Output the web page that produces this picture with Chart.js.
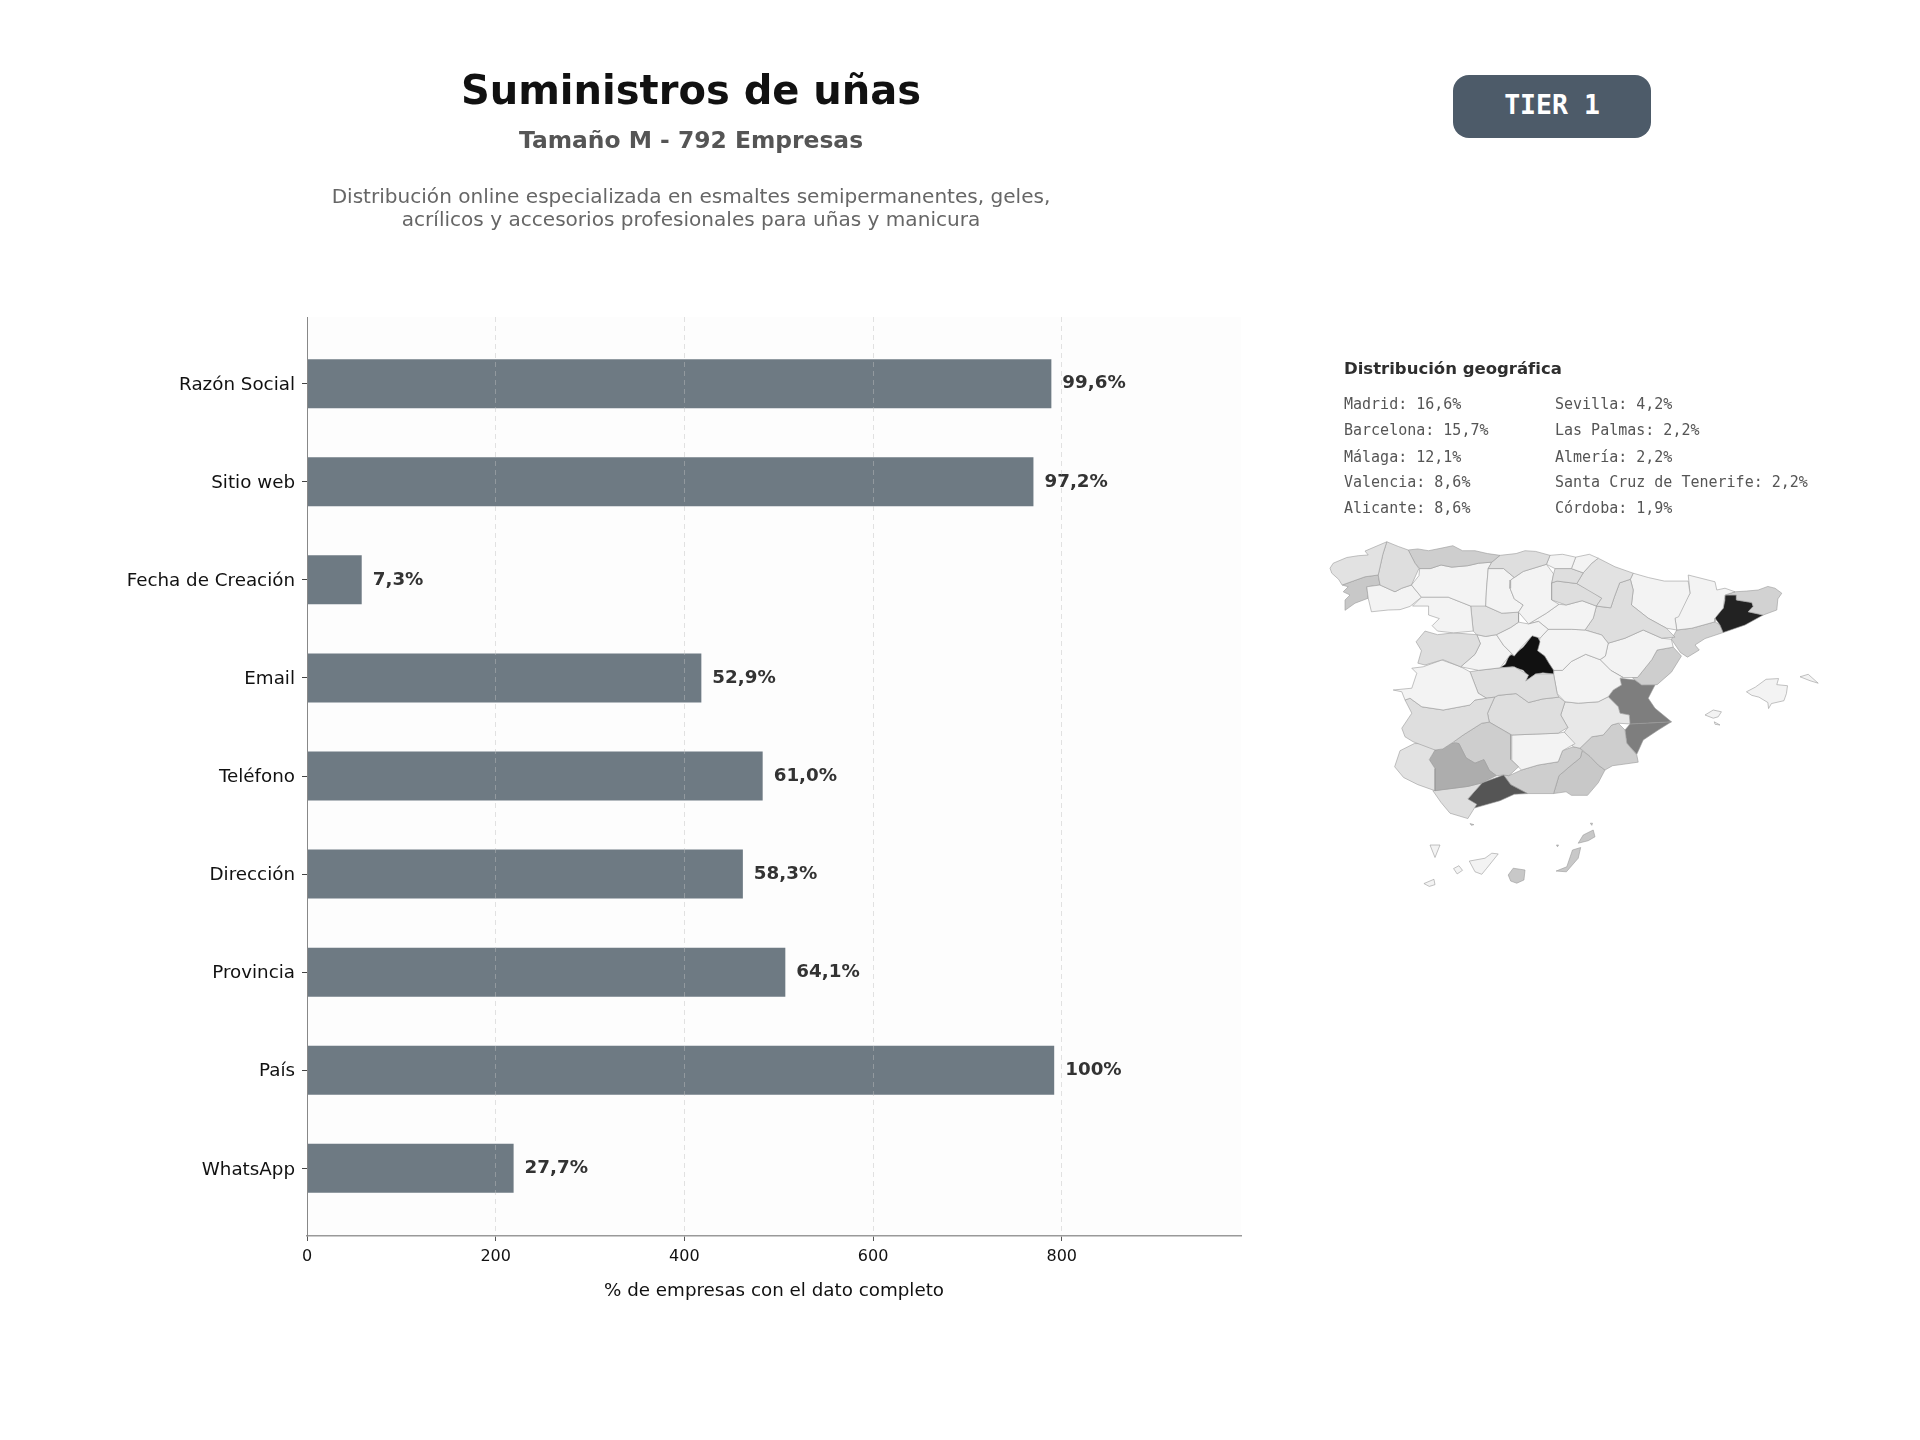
<!DOCTYPE html>
<html lang="es">
<head>
<meta charset="utf-8">
<title>Suministros de uñas</title>
<script src="https://cdn.jsdelivr.net/npm/chart.js@4/dist/chart.umd.min.js"></script>
<style>
  html, body { margin: 0; padding: 0; background: #fff; }
  body { position: relative; width: 1920px; height: 1440px; overflow: hidden; font-family: "DejaVu Sans", sans-serif; }
  canvas { position: absolute; left: 0; top: 0; }
  #mapCanvas { left: 1300px; top: 340px; }
  .centered { position: absolute; left: 691px; transform: translate(-50%, -50%); white-space: nowrap; }
  #title { top: 90px; font-size: 40px; font-weight: bold; color: #111; }
  #subtitle { top: 140px; font-size: 23.4px; font-weight: bold; color: #555; }
  .desc { font-size: 20.07px; color: #666; }
  #badge { position: absolute; left: 1453px; top: 75px; width: 198px; height: 63px; text-align: center;
           background: #4d5b69; border-radius: 16px; color: #fff; font: bold 26.5px/60px "DejaVu Sans Mono", monospace; }
  #geoTitle { position: absolute; left: 1344px; top: 368px; transform: translateY(-50%); font-size: 16.5px; font-weight: bold; color: #2e2e2e; white-space: nowrap; }
  .geo { position: absolute; transform: translateY(-50%); font: 15px "DejaVu Sans Mono", monospace; color: #555; white-space: nowrap; }
</style>
</head>
<body>
<canvas id="barCanvas" width="1920" height="1440"></canvas>
<canvas id="mapCanvas" width="560" height="560"></canvas>
<div id="title" class="centered">Suministros de uñas</div>
<div id="subtitle" class="centered">Tamaño M - 792 Empresas</div>
<div class="centered desc" style="top:196px">Distribución online especializada en esmaltes semipermanentes, geles,</div>
<div class="centered desc" style="top:219px">acrílicos y accesorios profesionales para uñas y manicura</div>
<div id="badge">TIER 1</div>
<div id="geoTitle">Distribución geográfica</div>
<div id="geoList"></div>

<script>
var categories = ['Razón Social', 'Sitio web', 'Fecha de Creación', 'Email', 'Teléfono', 'Dirección', 'Provincia', 'País', 'WhatsApp'];
var companyCounts = [789, 770, 58, 418, 483, 462, 507, 792, 219];
var valueLabels = ['99,6%', '97,2%', '7,3%', '52,9%', '61,0%', '58,3%', '64,1%', '100%', '27,7%'];
var xTicks = [0, 200, 400, 600, 800];

var geoLeft = ['Madrid: 16,6%', 'Barcelona: 15,7%', 'Málaga: 12,1%', 'Valencia: 8,6%', 'Alicante: 8,6%'];
var geoRight = ['Sevilla: 4,2%', 'Las Palmas: 2,2%', 'Almería: 2,2%', 'Santa Cruz de Tenerife: 2,2%', 'Córdoba: 1,9%'];

// province outlines in map units
var provinceNames = [];
var provinceShades = [];
var provinceOutlines = [];
function province(name, shade, outline) {
  provinceNames.push(name);
  provinceShades.push(shade);
  provinceOutlines.push(outline);
}

var LIGHT = '#f3f3f3', PALE = '#dedede', MID = '#cecece';

province('A Coruña', '#e2e2e2', [[84,639],[93,625],[131,609],[163,604],[191,602],[182,591],[210,579],[243,565],[232,600],[219,658],[182,663],[118,686],[108,670],[89,653]]);
province('Lugo', PALE, [[243,565],[275,578],[303,588],[322,625],[333,640],[312,686],[285,695],[266,705],[224,686],[219,658],[232,600]]);
province('Asturias', MID, [[303,588],[330,585],[360,590],[400,582],[428,576],[455,590],[490,590],[525,598],[560,603],[537,622],[500,625],[470,632],[425,636],[395,630],[365,640],[335,640],[322,625]]);
province('Cantabria', PALE, [[537,622],[560,603],[605,598],[630,590],[660,592],[700,603],[690,628],[625,648],[600,665],[570,640],[527,640]]);
province('Bizkaia', LIGHT, [[700,603],[735,600],[772,608],[760,640],[714,640],[690,628]]);
province('Gipuzkoa', LIGHT, [[772,608],[810,600],[835,611],[817,625],[793,652],[760,640]]);
province('Álava', PALE, [[714,640],[760,640],[793,652],[775,682],[720,675],[705,680],[710,655]]);
province('Navarra', '#e2e2e2', [[835,611],[882,635],[933,653],[925,670],[895,680],[880,720],[870,750],[830,745],[845,723],[775,682],[793,652],[817,625]]);
province('La Rioja', PALE, [[705,680],[720,675],[775,682],[810,700],[845,723],[830,745],[790,730],[745,742],[705,728]]);
province('Burgos', LIGHT, [[590,672],[625,648],[690,628],[710,655],[705,680],[705,728],[725,740],[690,765],[640,795],[612,762],[625,742],[600,725],[588,695]]);
province('Palencia', LIGHT, [[527,640],[570,640],[600,665],[590,672],[588,695],[600,725],[625,742],[612,762],[565,765],[520,745],[522,700]]);
province('León', LIGHT, [[335,640],[365,640],[395,630],[425,636],[470,632],[500,625],[537,622],[527,640],[522,700],[520,745],[478,745],[415,720],[340,720],[312,686],[333,660]]);
province('Ourense', LIGHT, [[187,691],[224,686],[266,705],[285,695],[312,686],[340,720],[308,746],[280,755],[247,756],[200,761],[191,723]]);
province('Pontevedra', '#c8c8c8', [[118,686],[182,663],[219,658],[224,686],[187,691],[191,723],[154,737],[126,757],[126,728],[140,714],[121,705],[135,691]]);
province('Zamora', LIGHT, [[315,745],[340,720],[415,720],[478,745],[485,815],[430,820],[385,815],[370,800],[390,780],[360,770],[360,745]]);
province('Valladolid', '#e2e2e2', [[478,745],[478,720],[520,745],[565,765],[612,762],[612,790],[590,805],[550,825],[520,830],[495,825],[485,815]]);
province('Segovia', LIGHT, [[550,825],[590,805],[612,790],[640,795],[668,788],[695,810],[672,835],[650,828],[620,860],[600,885],[570,855]]);
province('Soria', LIGHT, [[640,795],[690,765],[725,740],[745,742],[790,730],[830,745],[821,779],[798,812],[760,810],[695,810],[668,788]]);
province('Salamanca', PALE, [[350,815],[385,825],[430,820],[495,825],[505,850],[490,880],[450,915],[400,895],[350,910],[330,905],[340,870],[325,845]]);
province('Ávila', LIGHT, [[495,825],[520,830],[550,825],[570,855],[600,885],[590,880],[560,918],[500,925],[450,915],[490,880],[505,850]]);
province('Cáceres', LIGHT, [[313,919],[345,915],[397,896],[450,915],[476,929],[499,989],[522,1003],[490,1008],[476,1022],[401,1036],[341,1027],[308,1003],[294,1008],[285,985],[261,980],[313,975],[327,933]]);
province('Badajoz', PALE, [[294,1008],[308,1003],[341,1027],[401,1036],[476,1022],[490,1008],[522,1003],[545,1000],[525,1045],[530,1070],[509,1073],[457,1106],[429,1126],[400,1145],[378,1148],[317,1125],[294,1111],[285,1087],[313,1045]]);
province('Huelva', '#e2e2e2', [[320,1130],[360,1130],[378,1148],[362,1175],[378,1200],[378,1262],[330,1245],[290,1225],[265,1195],[280,1150]]);
province('Sevilla', '#adadad', [[378,1148],[400,1145],[420,1128],[445,1130],[465,1170],[490,1185],[515,1175],[530,1205],[550,1220],[510,1240],[470,1250],[378,1262],[378,1200],[362,1175]]);
province('Cádiz', PALE, [[372,1262],[470,1250],[510,1240],[470,1285],[495,1300],[470,1340],[420,1325],[395,1295]]);
province('Málaga', '#555555', [[470,1285],[510,1240],[570,1218],[590,1245],[637,1270],[600,1272],[560,1290],[490,1310],[455,1292]]);
province('Córdoba', MID, [[429,1126],[457,1106],[509,1073],[530,1070],[590,1105],[590,1175],[612,1195],[585,1220],[570,1218],[550,1220],[530,1205],[515,1175],[490,1185],[465,1170],[445,1130]]);
province('Toledo', PALE, [[476,929],[500,925],[560,918],[600,915],[640,938],[632,955],[660,935],[710,935],[720,990],[725,1000],[680,1005],[640,1015],[605,990],[555,995],[545,1000],[522,1003],[499,989]]);
province('Madrid', '#111111', [[560,918],[575,908],[585,885],[610,872],[625,860],[650,828],[665,830],[672,845],[665,870],[685,885],[697,905],[710,925],[710,935],[680,932],[660,935],[632,955],[638,940],[625,925],[595,915]]);
province('Guadalajara', LIGHT, [[672,835],[695,810],[760,810],[798,812],[845,826],[863,849],[855,885],[840,895],[800,880],[760,900],[735,925],[710,925],[697,905],[685,885],[665,870]]);
province('Cuenca', LIGHT, [[735,925],[760,900],[800,880],[840,895],[870,925],[905,945],[896,947],[900,966],[877,980],[863,999],[835,1013],[779,1017],[742,1013],[720,990],[710,935],[710,925]]);
province('Ciudad Real', PALE, [[545,1000],[555,995],[605,990],[640,1015],[680,1005],[725,1000],[742,1013],[730,1050],[750,1085],[723,1101],[593,1106],[530,1070],[525,1045]]);
province('Jaén', LIGHT, [[593,1106],[723,1101],[740,1098],[770,1130],[735,1150],[723,1181],[667,1190],[620,1204],[593,1176]]);
province('Albacete', '#e8e8e8', [[742,1013],[779,1017],[835,1013],[863,999],[891,1027],[896,1045],[922,1050],[924,1075],[891,1073],[873,1078],[849,1106],[817,1111],[784,1143],[765,1139],[740,1098],[750,1085],[730,1050]]);
province('Murcia', MID, [[784,1143],[817,1111],[849,1106],[873,1078],[891,1073],[910,1092],[915,1129],[943,1162],[947,1182],[905,1188],[875,1192],[854,1204],[835,1190],[812,1166]]);
province('Granada', MID, [[620,1204],[667,1190],[723,1181],[735,1150],[765,1139],[784,1143],[790,1150],[785,1170],[760,1190],[725,1220],[710,1270],[637,1270],[590,1245],[570,1218],[585,1220]]);
province('Almería', '#c8c8c8', [[790,1150],[812,1166],[835,1190],[854,1204],[835,1240],[805,1275],[760,1275],[745,1265],[710,1270],[725,1220],[760,1190],[785,1170]]);
province('Zaragoza', PALE, [[830,745],[870,750],[880,720],[895,680],[925,670],[933,700],[928,742],[975,779],[1026,807],[1050,832],[1013,835],[961,812],[910,835],[863,849],[845,826],[798,812],[821,779]]);
province('Huesca', LIGHT, [[933,653],[975,665],[1020,675],[1087,675],[1092,709],[1060,775],[1050,779],[1055,812],[1026,807],[975,779],[928,742],[933,700],[925,670]]);
province('Lleida', LIGHT, [[1087,658],[1162,677],[1167,700],[1190,695],[1218,705],[1190,714],[1185,751],[1162,779],[1162,789],[1097,807],[1055,812],[1050,779],[1092,709]]);
province('Girona', '#d2d2d2', [[1218,705],[1250,703],[1283,700],[1310,690],[1330,695],[1349,709],[1338,725],[1335,756],[1297,770],[1255,761],[1269,746],[1265,735],[1222,728],[1222,714],[1190,714]]);
province('Barcelona', '#222222', [[1190,714],[1222,714],[1222,728],[1265,735],[1269,746],[1255,761],[1297,770],[1246,798],[1185,819],[1176,798],[1162,779],[1167,761],[1185,751],[1190,728]]);
province('Tarragona', '#d2d2d2', [[1055,812],[1097,807],[1162,789],[1176,798],[1185,819],[1134,836],[1106,854],[1118,868],[1085,888],[1065,875],[1040,838]]);
province('Teruel', LIGHT, [[863,849],[910,835],[961,812],[1013,835],[1040,838],[1045,860],[1000,868],[985,895],[945,945],[905,945],[870,925],[840,895],[855,885]]);
province('Castellón', MID, [[1000,868],[1045,860],[1068,885],[1040,930],[1000,965],[957,966],[938,952],[930,945],[945,945],[985,895]]);
province('Valencia', '#7e7e7e', [[896,947],[938,952],[957,966],[994,966],[975,1003],[994,1031],[1040,1069],[985,1072],[924,1075],[922,1050],[896,1045],[891,1027],[863,999],[877,980],[900,966]]);
province('Rincón de Ademuz', '#7e7e7e', [[870,925],[890,925],[912,940],[890,942]]);
province('Alicante', '#7e7e7e', [[924,1075],[985,1072],[1040,1069],[1003,1092],[961,1120],[943,1160],[915,1129],[910,1092]]);
province('Mallorca', LIGHT, [[1250,985],[1275,972],[1305,950],[1340,948],[1335,965],[1365,968],[1362,990],[1355,1010],[1320,1018],[1312,1032],[1310,1015],[1285,1000],[1265,995]]);
province('Menorca', LIGHT, [[1400,943],[1423,936],[1451,961],[1428,954]]);
province('Ibiza', LIGHT, [[1134,1050],[1157,1036],[1180,1041],[1171,1055],[1157,1059]]);
province('Formentera', LIGHT, [[1160,1069],[1176,1078],[1162,1076]]);
province('La Palma', LIGHT, [[364,1414],[392,1414],[378,1449]]);
province('El Hierro', LIGHT, [[347,1522],[375,1510],[378,1525],[362,1530]]);
province('La Gomera', LIGHT, [[430,1480],[445,1472],[455,1485],[440,1495]]);
province('Tenerife', LIGHT, [[474,1459],[518,1451],[537,1437],[555,1439],[523,1479],[509,1496],[490,1489]]);
province('Gran Canaria', '#c8c8c8', [[583,1498],[597,1479],[630,1484],[627,1512],[607,1521],[590,1515]]);
province('Fuerteventura', '#c8c8c8', [[717,1487],[747,1475],[763,1428],[786,1421],[779,1451],[746,1489]]);
province('Lanzarote', '#c8c8c8', [[779,1409],[793,1386],[821,1372],[826,1391],[807,1402]]);
province('La Graciosa', '#c8c8c8', [[813,1353],[819,1353],[817,1359]]);
province('Lobos', '#c8c8c8', [[718,1414],[724,1414],[721,1419]]);
province('Ceuta', '#c8c8c8', [[476,1354],[487,1357],[480,1359]]);

function buildGeoList() {
  var rowY = [403.5, 430, 457, 482, 508];
  var host = document.getElementById('geoList');
  function addColumn(list, left) {
    list.forEach(function(text, i) {
      var el = document.createElement('div');
      el.className = 'geo';
      el.style.left = left + 'px';
      el.style.top = rowY[i] + 'px';
      el.textContent = text;
      host.appendChild(el);
    });
  }
  addColumn(geoLeft, 1344);
  addColumn(geoRight, 1555);
}

var plotBackground = {
  id: 'plotBackground',
  beforeDraw: function(chart) {
    var a = chart.chartArea;
    chart.ctx.save();
    chart.ctx.fillStyle = '#fdfdfd';
    chart.ctx.fillRect(a.left, a.top, a.right - a.left, a.bottom - a.top);
    chart.ctx.restore();
  }
};

var barValueLabels = {
  id: 'barValueLabels',
  afterDatasetsDraw: function(chart) {
    var ctx = chart.ctx;
    ctx.save();
    ctx.font = 'bold 18.3px "DejaVu Sans"';
    ctx.fillStyle = '#333';
    ctx.textAlign = 'left';
    ctx.textBaseline = 'middle';
    chart.getDatasetMeta(0).data.forEach(function(bar, i) {
      ctx.fillText(valueLabels[i], bar.x + 11, bar.y);
    });
    ctx.restore();
  }
};

function drawBars() {
  new Chart(document.getElementById('barCanvas'), {
    type: 'bar',
    data: {
      datasets: [{
        data: companyCounts.map(function(v, i) { return { x: v, y: i }; }),
        backgroundColor: '#6e7a83',
        barPercentage: 0.5,
        categoryPercentage: 1
      }]
    },
    options: {
      indexAxis: 'y',
      responsive: false,
      animation: false,
      layout: { padding: { left: 0, top: 317, right: 679, bottom: 137.5 } },
      plugins: { legend: { display: false }, tooltip: { enabled: false } },
      scales: {
        x: {
          type: 'linear',
          min: 0,
          max: 990,
          afterBuildTicks: function(scale) {
            scale.ticks = xTicks.map(function(v) { return { value: v }; });
          },
          afterFit: function(scale) { scale.height = 66.5; },
          ticks: { color: '#111', font: { family: 'DejaVu Sans', size: 16 }, padding: 6, maxRotation: 0 },
          grid: { color: 'rgba(190,190,190,0.45)', z: 1, tickColor: '#555', tickLength: 5, tickBorderDash: [] },
          border: { color: '#999', width: 1.5, dash: [5, 4], z: 2 },
          title: { display: true, text: '% de empresas con el dato completo', color: '#111', font: { family: 'DejaVu Sans', size: 18.3 }, padding: 0 }
        },
        y: {
          type: 'linear',
          reverse: true,
          offset: false,
          min: -0.68,
          max: 8.69,
          afterBuildTicks: function(scale) {
            scale.ticks = categories.map(function(c, i) { return { value: i }; });
          },
          afterFit: function(scale) { scale.width = 307; },
          ticks: {
            color: '#111',
            font: { family: 'DejaVu Sans', size: 18.3 },
            padding: 7,
            labelOffset: 1.5,
            callback: function(v) { return categories[v]; }
          },
          grid: { offset: false, drawOnChartArea: false, tickColor: '#444', tickLength: 5 },
          border: { color: '#888', width: 1, z: 2 }
        }
      }
    },
    plugins: [plotBackground, barValueLabels]
  });
}

function drawMap() {
  new Chart(document.getElementById('mapCanvas'), {
    type: 'scatter',
    data: {
      datasets: provinceOutlines.map(function(outline, i) {
        return {
          label: provinceNames[i],
          data: outline.concat([outline[0]]).map(function(p) { return { x: p[0], y: p[1] }; }),
          showLine: true,
          fill: 'shape',
          backgroundColor: provinceShades[i],
          borderColor: '#9a9a9a',
          borderWidth: 0.6,
          pointRadius: 0
        };
      })
    },
    options: {
      responsive: false,
      animation: false,
      layout: { padding: 0 },
      plugins: { legend: { display: false }, tooltip: { enabled: false } },
      scales: {
        x: { type: 'linear', display: false, min: 0, max: 1568 },
        y: { type: 'linear', display: false, reverse: true, min: 0, max: 1568 }
      }
    }
  });
}

buildGeoList();
drawBars();
drawMap();
</script>
</body>
</html>
